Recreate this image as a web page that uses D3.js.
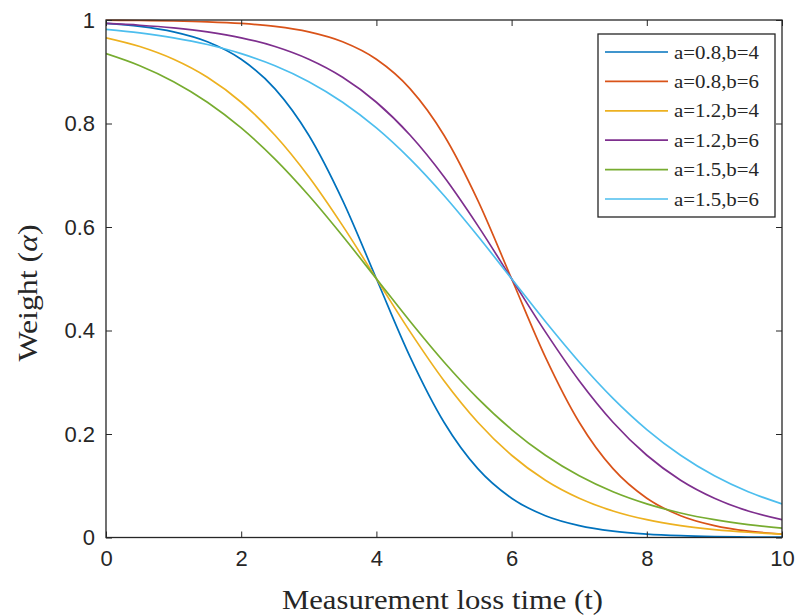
<!DOCTYPE html>
<html><head><meta charset="utf-8">
<script src="https://cdn.jsdelivr.net/npm/d3@7"></script>
<style>body{margin:0;background:#fff}</style>
</head><body>
<svg id="chart" width="796" height="616"></svg>
<script>
const tValues = [0,0.5,1,1.5,2,2.5,3,3.5,4,4.5,5,5.5,6,6.5,7,7.5,8,8.5,9,9.5,10];
const seriesNames = ["a=0.8,b=4","a=0.8,b=6","a=1.2,b=4","a=1.2,b=6","a=1.5,b=4","a=1.5,b=6"];
const s08b4 = [0.9933,0.9876,0.9770,0.9579,0.9241,0.8670,0.7773,0.6514,0.5,0.3486,0.2227,0.1330,0.0759,0.0421,0.0230,0.0124,0.0067,0.0036,0.0019,0.0010,0.0006];
const s08b6 = [0.9995,0.9990,0.9981,0.9964,0.9933,0.9876,0.9770,0.9579,0.9241,0.8670,0.7773,0.6514,0.5,0.3486,0.2227,0.1330,0.0759,0.0421,0.0230,0.0124,0.0067];
const s12b4 = [0.9656,0.9487,0.9241,0.8893,0.8411,0.7773,0.6971,0.6027,0.5,0.3973,0.3029,0.2227,0.1589,0.1107,0.0759,0.0513,0.0344,0.0230,0.0153,0.0101,0.0067];
const s12b6 = [0.9933,0.9899,0.9847,0.9770,0.9656,0.9487,0.9241,0.8893,0.8411,0.7773,0.6971,0.6027,0.5,0.3973,0.3029,0.2227,0.1589,0.1107,0.0759,0.0513,0.0344];
const s15b4 = [0.9350,0.9116,0.8808,0.8411,0.7914,0.7311,0.6608,0.5826,0.5,0.4174,0.3392,0.2689,0.2086,0.1589,0.1192,0.0884,0.0650,0.0474,0.0344,0.0249,0.0180];
const s15b6 = [0.9820,0.9751,0.9656,0.9526,0.9350,0.9116,0.8808,0.8411,0.7914,0.7311,0.6608,0.5826,0.5,0.4174,0.3392,0.2689,0.2086,0.1589,0.1192,0.0884,0.0650];
const xTicks = [0,2,4,6,8,10];
const yTicks = [0,0.2,0.4,0.6,0.8,1];
const colors = ["#0072BD","#D95319","#EDB120","#7E2F8E","#77AC30","#4DBEEE"];

const allSeries = [s08b4,s08b6,s12b4,s12b6,s15b4,s15b6];
const L = 106, R = 782, T = 20, B = 537.5;
const svg = d3.select("#chart");
const x = d3.scaleLinear().domain([0,10]).range([L,R]);
const y = d3.scaleLinear().domain([0,1]).range([B,T]);
const axisColor = "#262626";
const sans = "'Liberation Sans', Arial, sans-serif";
const serif = "'Liberation Serif', 'DejaVu Serif', serif";

svg.append("defs").append("clipPath").attr("id","clip")
  .append("rect").attr("x",L).attr("y",T-1).attr("width",R-L).attr("height",B-T+2);

const line = d3.line().x((d,i)=>x(tValues[i])).y(d=>y(d)).curve(d3.curveMonotoneX);
const g = svg.append("g").attr("clip-path","url(#clip)");
allSeries.forEach((s,i)=>{
  g.append("path").datum(s).attr("d",line).attr("fill","none")
    .attr("stroke",colors[i]).attr("stroke-width",1.7);
});

function styleAxis(sel, showLabels){
  sel.select(".domain").remove();
  sel.selectAll(".tick line").attr("stroke",axisColor).attr("stroke-width",1);
  sel.selectAll(".tick text").attr("fill",axisColor).style("font-family",sans).style("font-size","22px");
  if(!showLabels) sel.selectAll(".tick text").remove();
}
const fmt = d => d===0||d===1? String(d) : d3.format(".1f")(d);
styleAxis(svg.append("g").attr("transform",`translate(0,${B})`)
  .call(d3.axisBottom(x).tickValues(xTicks).tickSizeInner(-6).tickSizeOuter(0).tickPadding(13).tickFormat(d3.format("d"))), true);
styleAxis(svg.append("g").attr("transform",`translate(0,${T})`)
  .call(d3.axisTop(x).tickValues(xTicks).tickSizeInner(-6).tickSizeOuter(0)), false);
styleAxis(svg.append("g").attr("transform",`translate(${L},0)`)
  .call(d3.axisLeft(y).tickValues(yTicks).tickSizeInner(-6).tickSizeOuter(0).tickPadding(11).tickFormat(fmt)), true);
styleAxis(svg.append("g").attr("transform",`translate(${R},0)`)
  .call(d3.axisRight(y).tickValues(yTicks).tickSizeInner(-6).tickSizeOuter(0)), false);

svg.append("rect").attr("x",L).attr("y",T).attr("width",R-L).attr("height",B-T)
  .attr("fill","none").attr("stroke",axisColor).attr("stroke-width",1.3);

svg.append("text").attr("x",442.5).attr("y",609).attr("text-anchor","middle")
  .style("font-family",serif).style("font-size","28px").attr("fill",axisColor)
  .attr("textLength",321).attr("lengthAdjust","spacingAndGlyphs")
  .text("Measurement loss time (t)");
const yt = svg.append("text").attr("transform",`translate(37,293) rotate(-90)`)
  .attr("text-anchor","middle").style("font-family",serif).style("font-size","28px").attr("fill",axisColor)
  .attr("textLength",137).attr("lengthAdjust","spacingAndGlyphs");
yt.append("tspan").text("Weight (");
yt.append("tspan").style("font-style","italic").text("α");
yt.append("tspan").text(")");

// legend
const lg = svg.append("g");
lg.append("rect").attr("x",598).attr("y",34).attr("width",177).attr("height",183)
  .attr("fill","#fff").attr("stroke",axisColor).attr("stroke-width",1.3);
seriesNames.forEach((n,i)=>{
  const yy = 52 + i*29.4;
  lg.append("line").attr("x1",605).attr("x2",668).attr("y1",yy).attr("y2",yy)
    .attr("stroke",colors[i]).attr("stroke-width",1.7);
  lg.append("text").attr("x",674).attr("y",yy+6.5).style("font-family",serif)
    .style("font-size","19px").attr("fill",axisColor)
    .attr("textLength",85).attr("lengthAdjust","spacingAndGlyphs").text(n);
});
</script>
</body></html>
